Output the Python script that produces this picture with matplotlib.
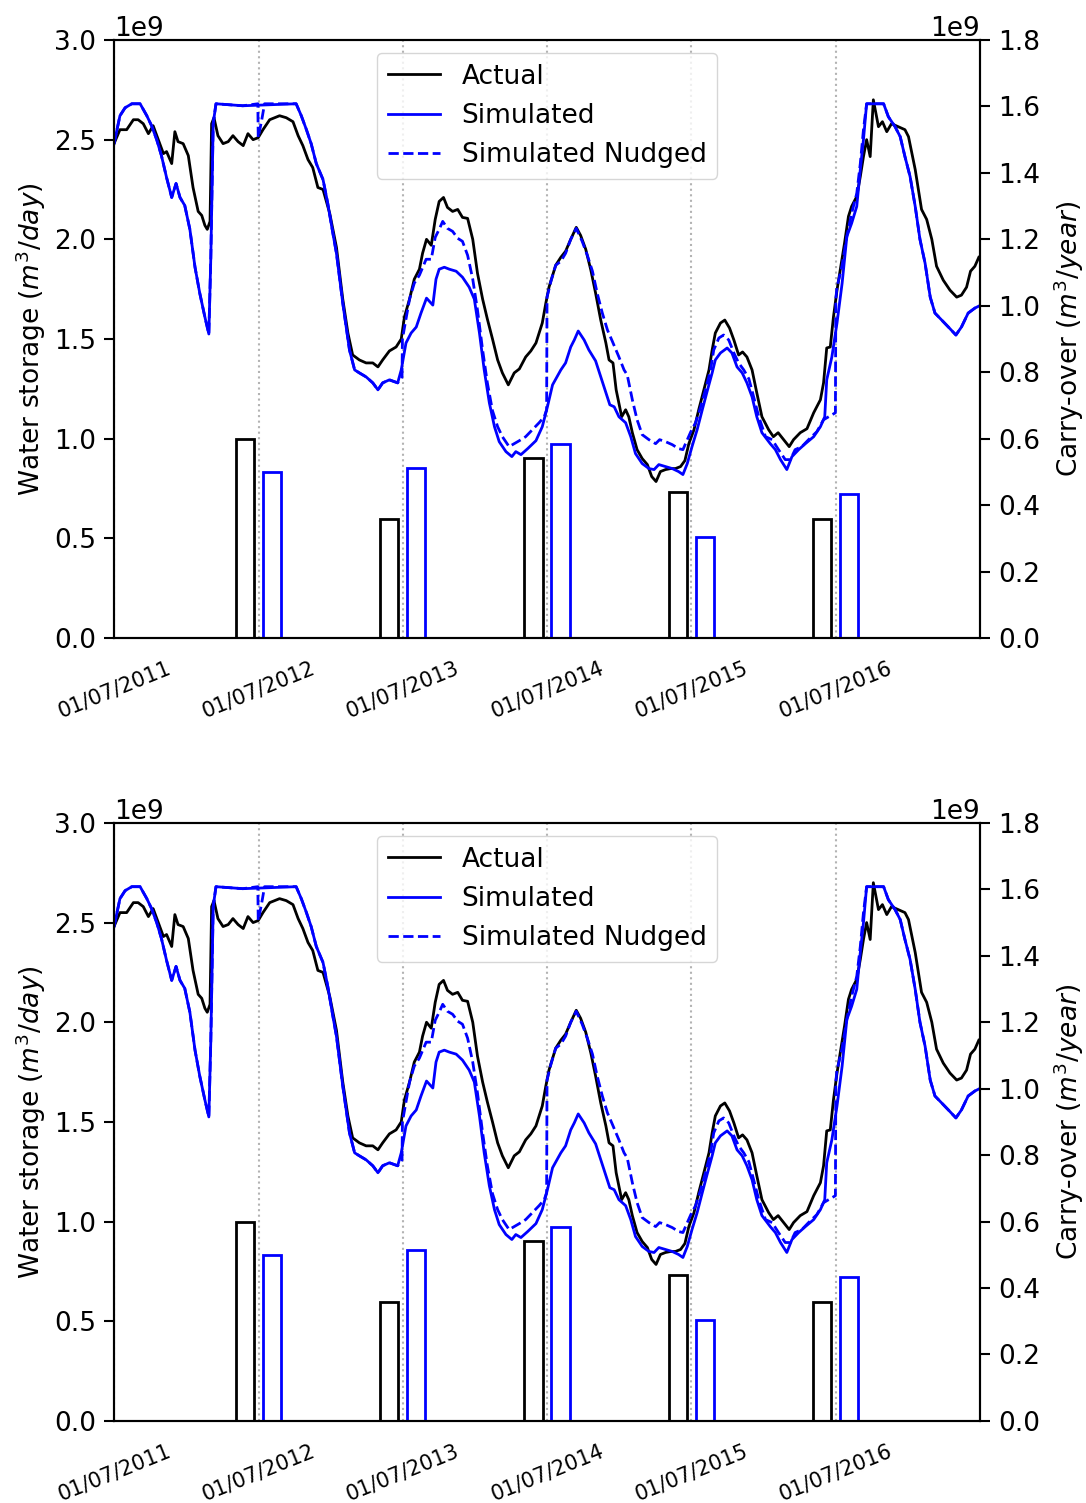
import numpy as np
import matplotlib
matplotlib.use("Agg")
import matplotlib.pyplot as plt
import matplotlib.dates as mdates

# ---------------- data (storage in 1e9 m3, days since 01/07/2011) ----------------
start = np.datetime64("2011-07-01")

act_days = [0, 15, 32, 49, 61, 74, 87, 99, 112, 125,
            133, 146, 154, 162, 175, 188, 200, 213, 222, 230,
            236, 243, 247, 253, 263, 276, 289, 301, 314, 327,
            339, 352, 365, 377, 394, 419, 436, 453, 466, 478,
            491, 503, 516, 529, 546, 563, 579, 592, 604, 621,
            638, 655, 668, 680, 697, 714, 727, 735, 748, 760,
            773, 781, 791, 803, 813, 823, 834, 844, 857, 870,
            882, 895, 908, 920, 933, 945, 958, 971, 983, 998,
            1013, 1026, 1042, 1055, 1068, 1084, 1093, 1101, 1118, 1131,
            1143, 1156, 1170, 1181, 1194, 1207, 1219, 1232, 1245, 1253,
            1263, 1271, 1285, 1295, 1303, 1312, 1324, 1337, 1350, 1361,
            1372, 1383, 1396, 1409, 1421, 1434, 1445, 1455, 1468, 1480,
            1493, 1506, 1514, 1522, 1535, 1546, 1558, 1569, 1581, 1591,
            1602, 1615, 1627, 1640, 1657, 1669, 1681, 1695, 1709, 1720,
            1737, 1754, 1771, 1788, 1796, 1804, 1813, 1821, 1830, 1838,
            1849, 1859, 1867, 1880, 1889, 1897, 1905, 1914, 1922, 1935,
            1945, 1956, 1968, 1985, 2002, 2011, 2028, 2044, 2057, 2070,
            2082, 2099, 2116, 2133, 2145, 2158, 2168, 2179, 2189]
act_vals = [2.48, 2.55, 2.55, 2.60, 2.60, 2.58, 2.53, 2.57, 2.50, 2.43,
            2.44, 2.38, 2.54, 2.49, 2.48, 2.42, 2.26, 2.14, 2.12, 2.07,
            2.05, 2.09, 2.58, 2.61, 2.52, 2.48, 2.49, 2.52, 2.49, 2.47,
            2.53, 2.50, 2.51, 2.55, 2.60, 2.62, 2.61, 2.59, 2.52, 2.47,
            2.40, 2.36, 2.26, 2.25, 2.13, 1.96, 1.70, 1.53, 1.42, 1.395,
            1.38, 1.38, 1.36, 1.395, 1.44, 1.46, 1.50, 1.61, 1.70, 1.80,
            1.85, 1.93, 2.00, 1.97, 2.10, 2.19, 2.21, 2.16, 2.14, 2.15,
            2.11, 2.105, 2.00, 1.83, 1.70, 1.60, 1.50, 1.395, 1.33, 1.27,
            1.33, 1.35, 1.41, 1.44, 1.48, 1.58, 1.68, 1.76, 1.87, 1.91,
            1.94, 2.00, 2.06, 2.02, 1.95, 1.845, 1.73, 1.595, 1.48, 1.395,
            1.38, 1.245, 1.11, 1.145, 1.11, 1.03, 0.945, 0.90, 0.87, 0.81,
            0.785, 0.835, 0.845, 0.85, 0.85, 0.86, 0.89, 0.975, 1.045, 1.145,
            1.245, 1.345, 1.445, 1.53, 1.58, 1.595, 1.555, 1.495, 1.42, 1.435,
            1.41, 1.345, 1.23, 1.11, 1.045, 1.01, 1.03, 0.995, 0.96, 0.995,
            1.03, 1.05, 1.13, 1.195, 1.28, 1.455, 1.46, 1.61, 1.745, 1.845,
            1.98, 2.115, 2.165, 2.215, 2.315, 2.415, 2.50, 2.415, 2.70, 2.565,
            2.59, 2.54, 2.58, 2.565, 2.55, 2.515, 2.35, 2.15, 2.10, 2.00,
            1.865, 1.795, 1.745, 1.71, 1.72, 1.76, 1.84, 1.865, 1.91]

sim_days = [0, 15, 28, 45, 66, 83, 95, 108, 120, 133,
            146, 157, 167, 179, 192, 205, 217, 230, 240, 245,
            251, 258, 326, 461, 474, 487, 499, 512, 529, 541,
            554, 563, 579, 596, 609, 621, 638, 655, 668, 680,
            697, 718, 727, 739, 752, 765, 777, 791, 807, 815,
            823, 836, 849, 866, 882, 899, 912, 925, 937, 950,
            963, 975, 992, 1007, 1017, 1030, 1047, 1068, 1084, 1097,
            1110, 1131, 1143, 1156, 1165, 1175, 1190, 1202, 1219, 1232,
            1245, 1255, 1266, 1278, 1295, 1308, 1320, 1337, 1354, 1367,
            1379, 1396, 1413, 1429, 1440, 1451, 1463, 1476, 1489, 1501,
            1514, 1522, 1535, 1552, 1564, 1577, 1590, 1602, 1615, 1627,
            1640, 1661, 1674, 1687, 1703, 1716, 1733, 1750, 1771, 1788,
            1799, 1804, 1817, 1830, 1843, 1855, 1867, 1880, 1889, 1897,
            1905, 1948, 1960, 1977, 1990, 2002, 2015, 2028, 2040, 2053,
            2066, 2078, 2095, 2112, 2131, 2145, 2162, 2179, 2189]
sim_vals = [2.48, 2.62, 2.66, 2.68, 2.68, 2.62, 2.57, 2.50, 2.42, 2.31,
            2.21, 2.28, 2.21, 2.17, 2.05, 1.86, 1.73, 1.61, 1.525, 1.91,
            2.58, 2.68, 2.67, 2.68, 2.62, 2.55, 2.48, 2.38, 2.30, 2.18,
            2.03, 1.93, 1.68, 1.445, 1.345, 1.33, 1.31, 1.28, 1.245, 1.28,
            1.295, 1.28, 1.345, 1.48, 1.53, 1.56, 1.63, 1.705, 1.67, 1.80,
            1.85, 1.86, 1.85, 1.84, 1.81, 1.76, 1.70, 1.53, 1.345, 1.18,
            1.06, 0.985, 0.935, 0.91, 0.935, 0.92, 0.95, 0.99, 1.06, 1.16,
            1.27, 1.345, 1.38, 1.46, 1.495, 1.54, 1.495, 1.445, 1.39, 1.31,
            1.23, 1.17, 1.16, 1.11, 1.08, 1.01, 0.925, 0.875, 0.85, 0.845,
            0.87, 0.86, 0.85, 0.835, 0.82, 0.875, 0.96, 1.045, 1.145, 1.235,
            1.33, 1.395, 1.43, 1.455, 1.43, 1.36, 1.33, 1.28, 1.21, 1.11,
            1.03, 0.975, 0.945, 0.895, 0.845, 0.91, 0.945, 0.975, 1.01, 1.06,
            1.11, 1.295, 1.41, 1.58, 1.78, 2.015, 2.08, 2.165, 2.35, 2.50,
            2.68, 2.68, 2.615, 2.565, 2.515, 2.415, 2.315, 2.165, 2.00, 1.88,
            1.71, 1.63, 1.595, 1.56, 1.52, 1.56, 1.63, 1.655, 1.665]

nud_days = [0, 15, 28, 45, 66, 83, 95, 108, 120, 133,
            146, 157, 167, 179, 192, 205, 217, 230, 240, 245,
            251, 258, 326, 364, 365, 374, 381,
            461, 474, 487, 499, 512, 529, 541, 554, 563, 579,
            596, 609, 621, 638, 655, 668, 680, 697, 718,
            729, 730,
            748, 760, 773, 790, 803, 813, 823, 832, 844, 857,
            870, 882, 895, 908, 920, 933, 945, 958, 971, 983,
            1000, 1013, 1026, 1042, 1059, 1076, 1089, 1095,
            1096, 1106, 1118, 1131, 1143, 1156, 1170, 1185, 1198, 1211,
            1223, 1236, 1249, 1261, 1278, 1291, 1299, 1312, 1324, 1337,
            1354, 1371, 1381, 1396, 1413, 1429, 1440, 1451, 1460, 1472,
            1485, 1497, 1510, 1518, 1531, 1543, 1556, 1569, 1581, 1594,
            1607, 1619, 1632, 1649, 1666, 1682, 1699, 1712, 1724, 1741,
            1758, 1779, 1796, 1826,
            1827, 1830, 1843, 1855, 1867, 1880, 1889, 1897, 1905,
            1948, 1960, 1977, 1990, 2002, 2015, 2028, 2040, 2053, 2066,
            2078, 2095, 2112, 2131, 2145, 2162, 2179, 2189]
nud_vals = [2.48, 2.62, 2.66, 2.68, 2.68, 2.62, 2.57, 2.50, 2.42, 2.31,
            2.21, 2.28, 2.21, 2.17, 2.05, 1.86, 1.73, 1.61, 1.525, 1.91,
            2.58, 2.68, 2.67, 2.68, 2.51, 2.60, 2.68,
            2.68, 2.62, 2.55, 2.48, 2.38, 2.30, 2.18, 2.03, 1.93, 1.68,
            1.445, 1.345, 1.33, 1.31, 1.28, 1.245, 1.28, 1.295, 1.28,
            1.31, 1.50,
            1.70, 1.78, 1.82, 1.90, 1.90, 2.01, 2.05, 2.09, 2.055, 2.04,
            2.005, 1.99, 1.92, 1.80, 1.645, 1.445, 1.28, 1.14, 1.06, 1.01,
            0.96, 0.975, 0.99, 1.01, 1.045, 1.08, 1.11, 1.145,
            1.71, 1.79, 1.87, 1.89, 1.93, 2.00, 2.055, 1.99, 1.92, 1.84,
            1.73, 1.63, 1.545, 1.49, 1.41, 1.345, 1.32, 1.195, 1.095, 1.02,
            0.995, 0.975, 0.995, 0.985, 0.97, 0.95, 0.945, 0.995, 1.035, 1.08,
            1.16, 1.245, 1.345, 1.445, 1.505, 1.52, 1.495, 1.43, 1.38, 1.345,
            1.30, 1.21, 1.11, 1.01, 0.995, 0.945, 0.895, 0.895, 0.945, 0.96,
            0.995, 1.035, 1.095, 1.13,
            1.70, 1.76, 1.87, 2.015, 2.13, 2.23, 2.38, 2.55, 2.68,
            2.68, 2.615, 2.565, 2.515, 2.415, 2.315, 2.165, 2.00, 1.88, 1.71,
            1.63, 1.595, 1.56, 1.52, 1.56, 1.63, 1.655, 1.665]

# carry-over bars (1e9 m3/year), one pair per hydrological year
bar_years = ["2012-07-01", "2013-07-01", "2014-07-01", "2015-07-01", "2016-07-01"]
carry_actual = [0.60, 0.358, 0.541, 0.440, 0.358]
carry_sim = [0.500, 0.513, 0.583, 0.305, 0.434]

tick_dates = ["2011-07-01", "2012-07-01", "2013-07-01", "2014-07-01", "2015-07-01", "2016-07-01"]


def to_dates(days):
    return start + np.array(days).astype("timedelta64[D]")


fs = 19      # labels, legend, y ticks
fs_date = 15 # rotated date tick labels
lw = 2.0

fig = plt.figure(figsize=(10.86, 15.03), dpi=100)

for bottom in [0.5755, 0.0546]:
    ax1 = fig.add_axes([0.105, bottom, 0.7974, 0.3979])
    ax1.plot(to_dates(act_days), np.array(act_vals) * 1e9, color="k", lw=lw, label="Actual")
    ax1.plot(to_dates(sim_days), np.array(sim_vals) * 1e9, color="b", lw=lw, label="Simulated")
    ax1.plot(to_dates(nud_days), np.array(nud_vals) * 1e9, color="b", lw=lw, ls="--",
             label="Simulated Nudged")
    ax1.set_ylim(0, 3e9)
    ax1.set_yticks(np.arange(0, 3.01e9, 0.5e9))
    ax1.set_ylabel("Water storage ($m^3/day$)", fontsize=fs)
    ax1.set_xlim(start, np.datetime64("2017-07-01"))
    ax1.set_xticks(np.array(tick_dates, dtype="datetime64[D]"))
    ax1.xaxis.set_major_formatter(mdates.DateFormatter("%d/%m/%Y"))
    ax1.tick_params(axis="y", labelsize=fs, length=7, width=1.5, pad=6)
    ax1.tick_params(axis="x", labelsize=fs_date, length=0, pad=14)
    for lab in ax1.get_xticklabels():
        lab.set_rotation(22)
        lab.set_ha("center")
    ax1.grid(axis="x", linestyle=":", color="0.7", lw=1.5)
    ax1.legend(loc="upper center", fontsize=fs)
    ax1.yaxis.get_offset_text().set_fontsize(fs)
    for sp in ax1.spines.values():
        sp.set_linewidth(1.5)

    ax2 = ax1.twinx()
    bx = np.array(bar_years, dtype="datetime64[D]")
    ax2.bar(bx - np.timedelta64(34, "D"), np.array(carry_actual) * 1e9,
            width=np.timedelta64(46, "D"), fill=False, edgecolor="k", lw=lw)
    ax2.bar(bx + np.timedelta64(34, "D"), np.array(carry_sim) * 1e9,
            width=np.timedelta64(46, "D"), fill=False, edgecolor="b", lw=lw)
    ax2.set_ylim(0, 1.8e9)
    ax2.set_yticks(np.arange(0, 1.81e9, 0.2e9))
    ax2.set_ylabel("Carry-over ($m^3/year$)", fontsize=fs, labelpad=8)
    ax2.tick_params(labelsize=fs, length=7, width=1.5, pad=6)
    ax2.yaxis.get_offset_text().set_fontsize(fs)
    for sp in ax2.spines.values():
        sp.set_linewidth(1.5)

fig.savefig("out.png", dpi=100)
